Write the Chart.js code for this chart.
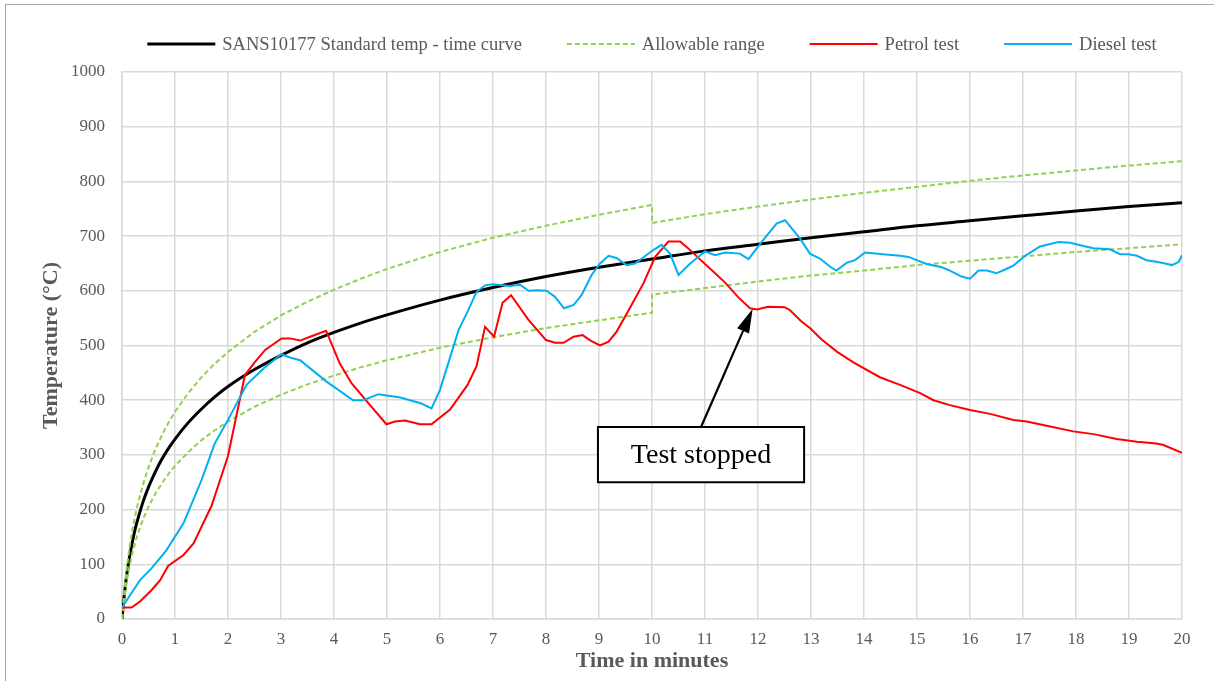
<!DOCTYPE html>
<html>
<head>
<meta charset="utf-8">
<script src="https://cdn.jsdelivr.net/npm/chart.js@4.4.1/dist/chart.umd.min.js"></script>
<style>
  html, body { margin: 0; padding: 0; background: #ffffff; overflow: hidden; }
  #wrap { position: relative; width: 1214px; height: 681px; }
  #frame { position: absolute; left: 5px; top: 4px; width: 1300px; height: 800px; border: 1px solid #a6a6a6; }
  canvas { position: absolute; left: 0; top: 0; }
</style>
</head>
<body>
<div id="wrap">
  <div id="frame"></div>
  <canvas id="chart" width="1214" height="681"></canvas>
</div>
<script>
// Standard temperature - time curve (minutes, °C)
const stdTime = [0, 0.05, 0.1, 0.15, 0.2, 0.25, 0.3, 0.4, 0.5, 0.6, 0.7, 0.8, 0.9, 1, 1.25, 1.5, 1.75, 2, 2.5, 3, 3.5, 4, 4.5, 5, 6, 7, 8, 9, 10, 11, 12, 13, 14, 15, 16, 17, 18, 19, 20];
const stdTemp = [0, 50, 88, 118, 143, 165, 183, 215, 241, 263, 283, 300, 315, 329, 359, 384, 406, 425, 456, 482, 505, 524, 541, 556, 583, 606, 626, 643, 658, 673, 685, 697, 708, 719, 728, 737, 746, 754, 761];

// Allowable range limits (tolerance band narrows after 10 minutes)
const rangeTime = [0, 0.05, 0.1, 0.15, 0.2, 0.25, 0.3, 0.4, 0.5, 0.6, 0.7, 0.8, 0.9, 1, 1.25, 1.5, 1.75, 2, 2.5, 3, 3.5, 4, 4.5, 5, 6, 7, 8, 9, 10, 10, 11, 12, 13, 14, 15, 16, 17, 18, 19, 20];
const rangeUpper = [0, 58, 101, 136, 165, 189, 211, 247, 277, 303, 325, 345, 363, 379, 413, 442, 467, 488, 525, 555, 580, 602, 622, 640, 671, 697, 719, 739, 757, 724, 740, 754, 767, 779, 790, 801, 811, 820, 829, 837];
const rangeLower = [0, 43, 75, 100, 122, 140, 156, 183, 205, 224, 240, 255, 268, 280, 305, 327, 345, 361, 388, 410, 429, 445, 460, 473, 496, 515, 532, 546, 560, 593, 605, 617, 628, 637, 647, 655, 663, 671, 678, 685];

// Petrol test
const petrolTime = [0, 0.18, 0.34, 0.56, 0.72, 0.87, 1.16, 1.35, 1.69, 2.0, 2.32, 2.51, 2.7, 3.01, 3.17, 3.36, 3.55, 3.85, 4.11, 4.33, 4.68, 4.99, 5.15, 5.34, 5.62, 5.84, 6.19, 6.52, 6.69, 6.85, 7.02, 7.18, 7.34, 7.67, 8.0, 8.17, 8.33, 8.52, 8.69, 8.84, 9.02, 9.18, 9.33, 9.58, 9.84, 10.06, 10.31, 10.53, 10.68, 10.91, 11.16, 11.38, 11.63, 11.85, 11.98, 12.19, 12.5, 12.6, 12.82, 12.98, 13.2, 13.5, 13.8, 14.3, 14.68, 15.06, 15.31, 15.62, 16.0, 16.38, 16.82, 17.07, 17.51, 17.95, 18.33, 18.77, 19.15, 19.52, 19.65, 20.0];
const petrolTemp = [21, 21, 32, 53, 71, 97, 117, 138, 207, 298, 446, 470, 492, 513, 513, 509, 516, 527, 467, 431, 391, 356, 361, 363, 356, 356, 383, 428, 462, 534, 516, 578, 592, 547, 510, 505, 505, 516, 519, 509, 500, 507, 525, 568, 614, 662, 690, 690, 678, 657, 635, 615, 588, 568, 566, 571, 570, 565, 544, 532, 511, 488, 469, 442, 428, 413, 400, 391, 382, 375, 364, 361, 352, 343, 338, 329, 324, 321, 318, 304];

// Diesel test
const dieselTime = [0, 0.34, 0.56, 0.84, 1.16, 1.5, 1.75, 2.0, 2.35, 2.67, 3.01, 3.17, 3.36, 3.86, 4.36, 4.55, 4.84, 5.25, 5.65, 5.84, 6.0, 6.35, 6.52, 6.69, 6.85, 7.0, 7.32, 7.51, 7.67, 7.82, 8.01, 8.17, 8.34, 8.52, 8.67, 8.86, 9.02, 9.18, 9.33, 9.52, 9.68, 10.03, 10.18, 10.34, 10.5, 10.72, 11.0, 11.19, 11.38, 11.66, 11.82, 12.1, 12.35, 12.51, 12.79, 12.98, 13.17, 13.36, 13.48, 13.67, 13.83, 14.02, 14.36, 14.68, 14.84, 15.18, 15.47, 15.62, 15.84, 16.0, 16.16, 16.32, 16.5, 16.66, 16.82, 17.04, 17.32, 17.67, 17.89, 18.14, 18.33, 18.64, 18.83, 18.99, 19.15, 19.33, 19.52, 19.68, 19.81, 19.94, 20.0];
const dieselTemp = [21, 71, 93, 126, 175, 254, 321, 364, 428, 458, 484, 478, 473, 434, 400, 400, 411, 405, 394, 385, 419, 528, 562, 598, 610, 612, 609, 611, 600, 601, 600, 589, 568, 574, 592, 629, 650, 664, 660, 647, 650, 675, 684, 668, 629, 650, 672, 665, 670, 668, 658, 693, 723, 729, 696, 668, 659, 644, 637, 651, 656, 670, 667, 664, 662, 649, 643, 637, 626, 622, 637, 637, 632, 639, 646, 664, 681, 689, 688, 682, 678, 676, 667, 667, 664, 656, 653, 650, 647, 653, 665];

// Axis ranges
const timeTicks = { min: 0, max: 20, step: 1 };
const tempTicks = { min: 0, max: 1000, step: 100 };

const FONT = '"Liberation Serif", "Times New Roman", serif';
const TEXT_GREY = '#595959';
const GRID_GREY = '#d9d9d9';

const pairs = (xs, ys) => xs.map((x, i) => ({ x: x, y: ys[i] }));

// Callout pointing at the moment the petrol test was stopped
const callout = {
  text: 'Test stopped',
  tip: { x: 11.9, y: 567 },
  box: { x0: 8.98, x1: 12.87, yTop: 351, yBottom: 250 }
};

const legendPlugin = {
  id: 'seriesLegend',
  afterDraw(chart) {
    const ctx = chart.ctx;
    const area = chart.chartArea;
    const sample = 68, gap = 7, spacing = 45, y = 44;
    ctx.save();
    ctx.font = '18.5px ' + FONT;
    ctx.textBaseline = 'middle';
    const items = chart.data.datasets.filter(d => d.inLegend !== false);
    const widths = items.map(d => sample + gap + ctx.measureText(d.label).width);
    const total = widths.reduce((a, b) => a + b, 0) + spacing * (items.length - 1);
    let x = (area.left + area.right) / 2 - total / 2;
    items.forEach((d, i) => {
      ctx.beginPath();
      ctx.setLineDash(d.borderDash || []);
      ctx.lineWidth = d.borderWidth;
      ctx.strokeStyle = d.borderColor;
      ctx.moveTo(x, y);
      ctx.lineTo(x + sample, y);
      ctx.stroke();
      ctx.setLineDash([]);
      ctx.fillStyle = TEXT_GREY;
      ctx.textAlign = 'left';
      ctx.fillText(d.label, x + sample + gap, y + 1);
      x += widths[i] + spacing;
    });
    ctx.restore();
  }
};

const calloutPlugin = {
  id: 'callout',
  afterDatasetsDraw(chart) {
    const ctx = chart.ctx;
    const sx = chart.scales.x, sy = chart.scales.y;
    const bx0 = sx.getPixelForValue(callout.box.x0);
    const bx1 = sx.getPixelForValue(callout.box.x1);
    const by0 = sy.getPixelForValue(callout.box.yTop);
    const by1 = sy.getPixelForValue(callout.box.yBottom);
    const tx = sx.getPixelForValue(callout.tip.x);
    const ty = sy.getPixelForValue(callout.tip.y);
    const fx = (bx0 + bx1) / 2, fy = by0;
    ctx.save();
    // arrow shaft
    const ang = Math.atan2(ty - fy, tx - fx);
    const headLen = 24, headHalf = 6.5;
    const hx = tx - headLen * Math.cos(ang), hy = ty - headLen * Math.sin(ang);
    ctx.strokeStyle = '#000';
    ctx.lineWidth = 2.2;
    ctx.beginPath();
    ctx.moveTo(fx, fy);
    ctx.lineTo(hx, hy);
    ctx.stroke();
    // arrow head
    ctx.fillStyle = '#000';
    ctx.beginPath();
    ctx.moveTo(tx, ty);
    ctx.lineTo(hx + headHalf * Math.sin(ang), hy - headHalf * Math.cos(ang));
    ctx.lineTo(hx - headHalf * Math.sin(ang), hy + headHalf * Math.cos(ang));
    ctx.closePath();
    ctx.fill();
    // box
    ctx.fillStyle = '#fff';
    ctx.fillRect(bx0, by0, bx1 - bx0, by1 - by0);
    ctx.lineWidth = 2;
    ctx.strokeRect(bx0, by0, bx1 - bx0, by1 - by0);
    ctx.fillStyle = '#000';
    ctx.font = '28px ' + FONT;
    ctx.textAlign = 'center';
    ctx.textBaseline = 'middle';
    ctx.fillText(callout.text, (bx0 + bx1) / 2, (by0 + by1) / 2 + 1);
    ctx.restore();
  }
};

new Chart(document.getElementById('chart'), {
  type: 'line',
  data: {
    datasets: [
      {
        label: 'SANS10177 Standard temp - time curve',
        data: pairs(stdTime, stdTemp),
        borderColor: '#000000',
        borderWidth: 3,
        cubicInterpolationMode: 'monotone',
        order: 3
      },
      {
        label: 'Allowable range',
        data: pairs(rangeTime, rangeUpper),
        borderColor: '#92d050',
        borderWidth: 2,
        borderDash: [5, 3],
        order: 2
      },
      {
        label: 'Allowable range',
        inLegend: false,
        data: pairs(rangeTime, rangeLower),
        borderColor: '#92d050',
        borderWidth: 2,
        borderDash: [5, 3],
        order: 2
      },
      {
        label: 'Petrol test',
        data: pairs(petrolTime, petrolTemp),
        borderColor: '#ff0000',
        borderWidth: 2,
        order: 1
      },
      {
        label: 'Diesel test',
        data: pairs(dieselTime, dieselTemp),
        borderColor: '#00b0f0',
        borderWidth: 2,
        order: 0
      }
    ]
  },
  options: {
    responsive: false,
    animation: false,
    layout: { padding: { left: 36, right: 32, top: 72, bottom: 3 } },
    elements: { point: { radius: 0, hoverRadius: 0 }, line: { tension: 0, fill: false } },
    plugins: { legend: { display: false }, tooltip: { enabled: false } },
    scales: {
      x: {
        type: 'linear',
        min: timeTicks.min,
        max: timeTicks.max,
        afterFit: (scale) => { scale.height = 59; },
        grid: { color: GRID_GREY, lineWidth: 1.5, drawTicks: false },
        border: { color: GRID_GREY, width: 1.5 },
        ticks: { stepSize: timeTicks.step, padding: 10, color: TEXT_GREY, font: { family: FONT, size: 17 } },
        title: { display: true, text: 'Time in minutes', color: TEXT_GREY, padding: { top: 2, bottom: 3 }, font: { family: FONT, size: 22, weight: 'bold' } }
      },
      y: {
        min: tempTicks.min,
        max: tempTicks.max,
        afterFit: (scale) => { scale.width = 86; },
        grid: { color: GRID_GREY, lineWidth: 1.5, drawTicks: false },
        border: { color: GRID_GREY, width: 1.5 },
        ticks: { stepSize: tempTicks.step, padding: 17, color: TEXT_GREY, font: { family: FONT, size: 17 }, callback: (v) => String(v) },
        title: { display: true, text: 'Temperature (°C)', color: TEXT_GREY, padding: { top: 2, bottom: 5 }, font: { family: FONT, size: 22, weight: 'bold' } }
      }
    }
  },
  plugins: [legendPlugin, calloutPlugin]
});
</script>
</body>
</html>
